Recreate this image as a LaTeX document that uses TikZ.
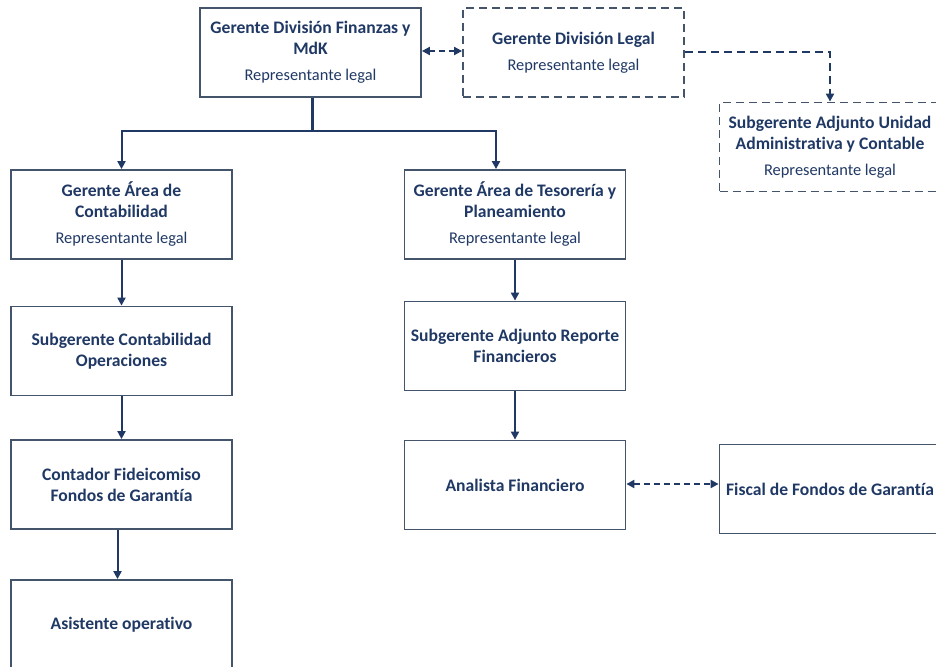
\documentclass[tikz,border=0pt]{standalone}
\usepackage{fontspec}
\setmainfont[Ligatures=CommonOff]{Carlito}
\usetikzlibrary{arrows.meta}
\definecolor{navy}{HTML}{1F3864}
\definecolor{edge}{HTML}{44546A}
\tikzset{
  box/.style={draw=edge, line width=1.8pt, minimum width=221pt, minimum height=89pt, inner sep=0pt, align=center, text=navy, font=\fontsize{17.6}{21}\selectfont\bfseries},
  dbox/.style={box, dash pattern=on 8pt off 5pt},
  conn/.style={draw=navy, line width=2pt, -{Triangle[length=8pt,width=8pt]}},
  dconn/.style={draw=navy, line width=2pt, dash pattern=on 6pt off 4pt, {Triangle[length=8pt,width=8pt]}-{Triangle[length=8pt,width=8pt]}},
}
\newcommand{\rl}{\\[5pt]{\fontsize{16.4}{18}\selectfont\mdseries Representante legal}}
\begin{document}
\begin{tikzpicture}[x=1pt,y=-1pt]
\useasboundingbox (0,0) rectangle (936,666);
\clip (0,0) rectangle (936,666);
\node[box]  (A) at (310.5,52.5) {Gerente División Finanzas y\\MdK\rl};
\node[dbox] (B) at (573.5,52.5) {Gerente División Legal\rl};
\node[dbox] (C) at (830,147) {Subgerente Adjunto Unidad\\Administrativa y Contable\rl};
\node[box]  (D) at (121.5,214.5) {Gerente Área de\\Contabilidad\rl};
\node[box]  (E) at (515,214.5) {Gerente Área de Tesorería y\\Planeamiento\rl};
\node[box]  (F) at (121.5,351) {Subgerente Contabilidad\\Operaciones};
\node[box]  (G) at (515,346) {Subgerente Adjunto Reporte\\Financieros};
\node[box]  (H) at (121.5,484.5) {Contador Fideicomiso\\Fondos de Garantía};
\node[box]  (I) at (515,485) {Analista Financiero};
\node[box]  (J) at (830,489) {Fiscal de Fondos de Garantía};
\node[box]  (K) at (121.5,624.5) {Asistente operativo};
\coordinate (hub) at (312,131);
\draw[navy, line width=3pt] (A.south -| hub) -- (hub);
\draw[conn] (hub) -| (D.north);
\draw[conn] (hub) -| ([xshift=-19pt]E.north);
\draw[conn] (D) -- (F);
\draw[conn] (F) -- (H);
\draw[conn] ([xshift=-4pt]H.south) -- ([xshift=-4pt]K.north);
\draw[conn] (E) -- (G);
\draw[conn] (G) -- (I);
\draw[dconn] ([yshift=1.5pt]A.east) -- ([yshift=1.5pt]B.west);
\draw[draw=navy, line width=2pt, dash pattern=on 8pt off 5pt, -{Triangle[length=8pt,width=8pt]}] (B.east) -| (C.north);
\draw[dconn] ([yshift=1pt]I.east) -- ([yshift=1pt]I.east -| J.west);
\end{tikzpicture}
\end{document}
